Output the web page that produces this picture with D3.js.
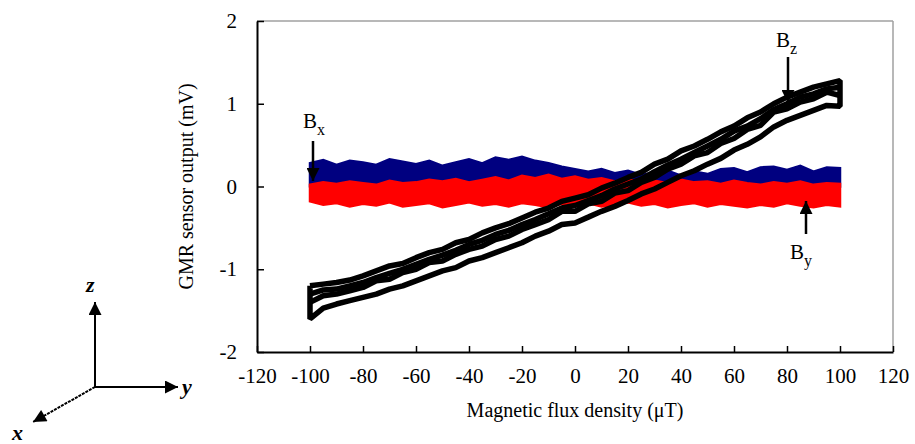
<!DOCTYPE html>
<html>
<head>
<meta charset="utf-8">
<script src="https://cdn.jsdelivr.net/npm/d3@7"></script>
<style>
  body { margin: 0; background: #fff; }
  svg { display: block; font-family: "Liberation Serif", "DejaVu Serif", serif; }
</style>
</head>
<body>
<div id="chart"></div>
<script>
"use strict"

// sample positions along the field sweep (uT)
const fieldX = [-100, -95, -90, -85, -80, -75, -70, -65, -60, -55, -50, -45, -40, -35, -30, -25, -20, -15, -10, -5,
  0, 5, 10, 15, 20, 25, 30, 35, 40, 45, 50, 55, 60, 65, 70, 75, 80, 85, 90, 95, 100];

// Bx (blue band) edges, mV
const bxTop = [0.28, 0.32, 0.26, 0.31, 0.29, 0.26, 0.33, 0.30, 0.27, 0.31, 0.25, 0.29, 0.33, 0.28, 0.35, 0.32, 0.36, 0.31, 0.28, 0.24,
  0.21, 0.18, 0.21, 0.16, 0.19, 0.14, 0.17, 0.19, 0.13, 0.18, 0.15, 0.21, 0.22, 0.17, 0.23, 0.24, 0.20, 0.25, 0.18, 0.23, 0.22];
const bxBottom = [0.00, -0.02, 0.01, -0.03, 0.00, -0.02, 0.02, -0.01, 0.00, -0.03, 0.01, -0.02, 0.00, 0.02, -0.01, 0.00, 0.03, 0.01, -0.02, 0.00,
  -0.03, -0.01, 0.00, -0.02, 0.01, -0.03, 0.00, -0.02, 0.01, -0.01, 0.00, -0.03, 0.01, -0.02, 0.00, -0.01, 0.02, -0.02, 0.00, -0.01, 0.00];

// By (red band) edges, mV
const byTop = [0.02, 0.05, 0.03, 0.06, 0.04, 0.02, 0.07, 0.04, 0.05, 0.08, 0.06, 0.09, 0.05, 0.08, 0.11, 0.07, 0.13, 0.10, 0.14, 0.09,
  0.12, 0.08, 0.10, 0.06, 0.09, 0.05, 0.07, 0.04, 0.08, 0.05, 0.06, 0.03, 0.07, 0.04, 0.02, 0.05, 0.03, 0.06, 0.02, 0.04, 0.03];
const byBottom = [-0.18, -0.22, -0.20, -0.24, -0.21, -0.23, -0.19, -0.24, -0.22, -0.20, -0.25, -0.22, -0.19, -0.23, -0.21, -0.24, -0.20, -0.22, -0.25, -0.21,
  -0.23, -0.20, -0.24, -0.22, -0.19, -0.23, -0.21, -0.25, -0.22, -0.20, -0.24, -0.21, -0.23, -0.25, -0.22, -0.24, -0.20, -0.23, -0.25, -0.22, -0.24];

// Bz traces (black hysteresis loops), mV
const bzUp = [-1.20, -1.18, -1.16, -1.13, -1.08, -1.02, -0.96, -0.93, -0.86, -0.80, -0.76, -0.68, -0.64, -0.56, -0.50, -0.45, -0.38, -0.31, -0.26, -0.18,
  -0.14, -0.10, -0.02, 0.04, 0.11, 0.17, 0.27, 0.33, 0.43, 0.49, 0.57, 0.66, 0.73, 0.83, 0.90, 1.00, 1.08, 1.14, 1.20, 1.24, 1.28];
const bzUp2 = [-1.30, -1.25, -1.24, -1.20, -1.16, -1.10, -1.05, -1.00, -0.94, -0.88, -0.83, -0.77, -0.70, -0.65, -0.58, -0.53, -0.46, -0.40, -0.33, -0.26,
  -0.23, -0.17, -0.11, -0.03, 0.03, 0.09, 0.18, 0.26, 0.33, 0.41, 0.49, 0.57, 0.67, 0.73, 0.82, 0.93, 1.00, 1.08, 1.12, 1.18, 1.20];
const bzMid = [-1.40, -1.32, -1.30, -1.26, -1.22, -1.14, -1.12, -1.04, -1.00, -0.92, -0.90, -0.82, -0.76, -0.72, -0.64, -0.60, -0.52, -0.46, -0.40, -0.30,
  -0.30, -0.21, -0.18, -0.08, -0.05, 0.05, 0.11, 0.21, 0.27, 0.37, 0.41, 0.52, 0.58, 0.69, 0.74, 0.90, 0.94, 1.02, 1.06, 1.14, 1.10];
const bzLow = [-1.60, -1.47, -1.42, -1.38, -1.34, -1.30, -1.24, -1.20, -1.14, -1.08, -1.02, -0.98, -0.90, -0.86, -0.80, -0.74, -0.68, -0.60, -0.54, -0.46,
  -0.44, -0.37, -0.30, -0.24, -0.17, -0.09, -0.03, 0.05, 0.13, 0.19, 0.27, 0.34, 0.44, 0.51, 0.60, 0.72, 0.80, 0.86, 0.92, 0.98, 0.97];

const xTicks = [-120, -100, -80, -60, -40, -20, 0, 20, 40, 60, 80, 100, 120];
const yTicks = [-2, -1, 0, 1, 2];

window.addEventListener("load", drawChart);

function drawChart() {
  let width = 915, height = 444;
  let margin = {left: 257, right: 22, top: 21, bottom: 92};

  let svg = d3.select("#chart").append("svg")
    .attr("width", width)
    .attr("height", height);

  let x = d3.scaleLinear().domain([-120, 120]).range([margin.left, width - margin.right]);
  let y = d3.scaleLinear().domain([-2, 2]).range([height - margin.bottom, margin.top]);

  // arrow head marker
  svg.append("defs").append("marker")
      .attr("id", "head")
      .attr("viewBox", "0 0 10 10")
      .attr("refX", 10).attr("refY", 5)
      .attr("markerWidth", 14).attr("markerHeight", 13)
      .attr("markerUnits", "userSpaceOnUse")
      .attr("orient", "auto")
    .append("path")
      .attr("d", "M0,0 L10,5 L0,10 Z")
      .attr("fill", "#000");

  // frame: top and right are grey
  svg.append("line")
    .attr("x1", x(-120)).attr("x2", x(120)).attr("y1", y(2)).attr("y2", y(2))
    .attr("stroke", "#a0a0a0").attr("stroke-width", 1.5);
  svg.append("line")
    .attr("x1", x(120)).attr("x2", x(120)).attr("y1", y(2)).attr("y2", y(-2))
    .attr("stroke", "#a0a0a0").attr("stroke-width", 1.5);

  // noisy data bands
  let band = (top, bottom) => d3.area()
    .x((d, i) => x(fieldX[i]))
    .y0((d, i) => y(bottom[i]))
    .y1((d, i) => y(top[i]));

  svg.append("path")
    .attr("d", band(bxTop, bxBottom)(fieldX))
    .attr("fill", "#000080").attr("stroke", "#000080").attr("stroke-width", 2.5);

  svg.append("path")
    .attr("d", band(byTop, byBottom)(fieldX))
    .attr("fill", "#ff0000").attr("stroke", "#ff0000").attr("stroke-width", 2.5);

  let line = d3.line().x(d => x(d[0])).y(d => y(d[1]));
  let loop = fieldX.map((v, i) => [v, bzUp[i]])
    .concat(fieldX.map((v, i) => [v, bzLow[i]]).reverse());
  loop.push(loop[0]);
  let traces = [loop,
    fieldX.map((v, i) => [v, bzUp2[i]]),
    fieldX.map((v, i) => [v, bzMid[i]])];

  svg.selectAll(".bz").data(traces).join("path")
    .attr("class", "bz")
    .attr("d", line)
    .attr("fill", "none").attr("stroke", "#000")
    .attr("stroke-width", 5.5).attr("stroke-linejoin", "bevel");

  // axes
  let fmt = d => String(d);
  let xAxis = d3.axisBottom(x).tickValues(xTicks).tickFormat(fmt).tickSizeInner(-6).tickSizeOuter(0).tickPadding(16);
  let gx = svg.append("g").attr("transform", `translate(0,${y(-2)})`).call(xAxis);
  let yAxis = d3.axisLeft(y).tickValues(yTicks).tickFormat(fmt).tickSizeInner(-7).tickSizeOuter(0).tickPadding(20);
  let gy = svg.append("g").attr("transform", `translate(${x(-120)},0)`).call(yAxis);

  for (let g of [gx, gy]) {
    g.select(".domain").attr("stroke", "#000").attr("stroke-width", 2);
    g.selectAll(".tick line").attr("stroke", "#000").attr("stroke-width", 1.5);
    g.selectAll("text").attr("font-family", "Liberation Serif, serif").attr("font-size", 21).attr("fill", "#000");
  }

  svg.append("text")
    .attr("x", x(0)).attr("y", 417)
    .attr("text-anchor", "middle").attr("font-size", 20)
    .text("Magnetic flux density (\u03bcT)");

  svg.append("text")
    .attr("transform", `translate(193,${y(0)}) rotate(-90)`)
    .attr("text-anchor", "middle").attr("font-size", 20)
    .text("GMR sensor output (mV)");

  // series annotations
  let notes = [
    {name: "x", tx: 303, ty: 128, x1: 313, y1: 141, x2: 313, y2: 181},
    {name: "z", tx: 776, ty: 47, x1: 788, y1: 57, x2: 788, y2: 103},
    {name: "y", tx: 790, ty: 259, x1: 806, y1: 234, x2: 806, y2: 201}
  ];
  for (let n of notes) {
    svg.append("line")
      .attr("x1", n.x1).attr("y1", n.y1).attr("x2", n.x2).attr("y2", n.y2)
      .attr("stroke", "#000").attr("stroke-width", 2.5)
      .attr("marker-end", "url(#head)");
    let t = svg.append("text").attr("x", n.tx).attr("y", n.ty).attr("font-size", 21);
    t.append("tspan").text("B");
    t.append("tspan").attr("dy", 7).attr("font-size", 16).text(n.name);
  }

  // coordinate frame sketch
  let frame = svg.append("g").attr("stroke", "#000").attr("stroke-width", 2);
  frame.append("line").attr("x1", 95).attr("y1", 387).attr("x2", 95).attr("y2", 302).attr("marker-end", "url(#head)");
  frame.append("line").attr("x1", 95).attr("y1", 387).attr("x2", 178).attr("y2", 387).attr("marker-end", "url(#head)");
  frame.append("line").attr("x1", 95).attr("y1", 387).attr("x2", 33).attr("y2", 422)
    .attr("stroke-dasharray", "3,1").attr("marker-end", "url(#head)");
  let axisLabels = [["z", 86, 292], ["y", 182, 394], ["x", 12, 440]];
  for (let [s, lx, ly] of axisLabels) {
    svg.append("text").attr("x", lx).attr("y", ly)
      .attr("font-size", 22).attr("font-style", "italic").attr("font-weight", "bold")
      .text(s);
  }
}
</script>
</body>
</html>
